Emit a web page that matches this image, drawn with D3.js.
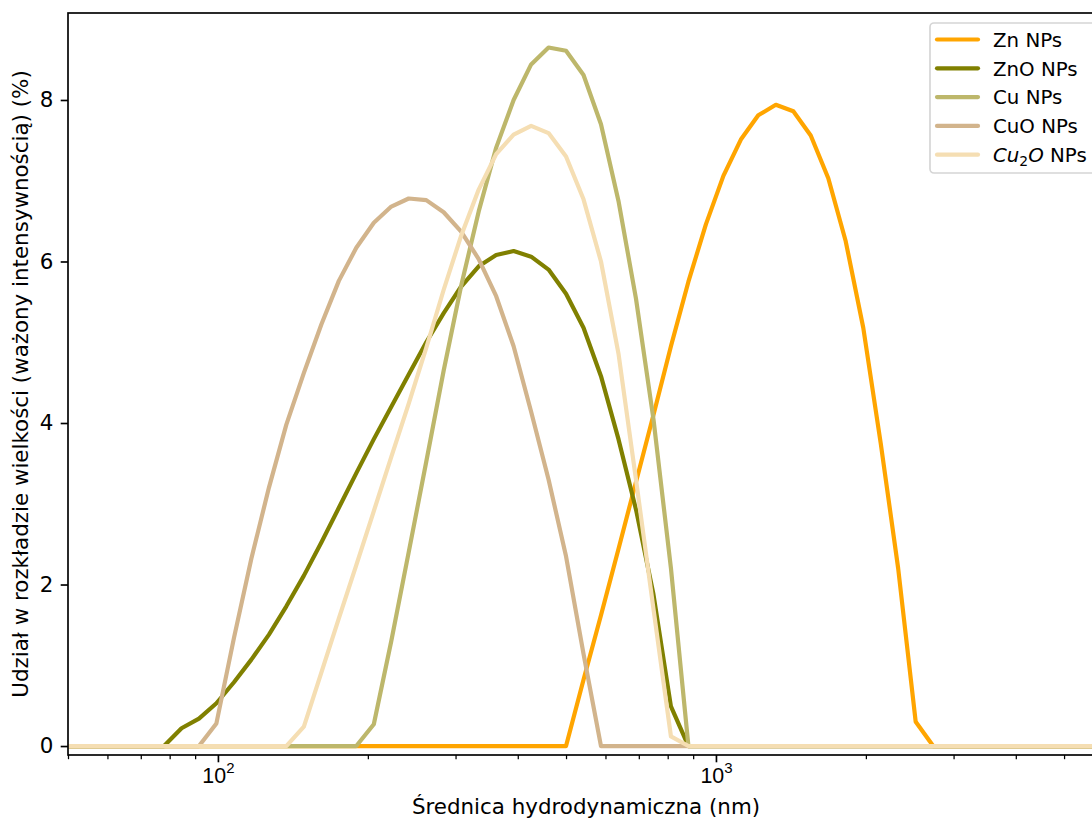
<!DOCTYPE html>
<html>
<head>
<meta charset="utf-8">
<script src="https://cdn.jsdelivr.net/npm/d3@7"></script>
<style>
  body { margin: 0; background: #fff; }
  svg { font-family: "DejaVu Sans", sans-serif; }
</style>
</head>
<body>
<div id="chart"></div>
<script>
// hydrodynamic diameter bins (nm), log spaced
var sizes = [
  47.98, 52.03, 56.41, 61.16, 66.31, 71.89, 77.94, 84.51, 91.61, 99.30,
  107.7, 116.7, 126.6, 137.2, 148.8, 161.3, 174.9, 189.6, 205.6, 222.9,
  241.6, 262.0, 284.0, 307.9, 333.9, 362.0, 392.4, 425.5, 461.2, 500.0,
  542.1, 587.7, 637.2, 690.9, 749.0, 812.1, 880.4, 954.5, 1035, 1122,
  1216, 1319, 1430, 1550, 1681, 1822, 1976, 2142, 2322, 2518,
  2730, 2959, 3209, 3479, 3772, 4089, 4433, 4806, 5211, 5649,
  6125
];

// intensity weighted size distribution (%)
var znValues = [
  0, 0, 0, 0, 0, 0, 0, 0, 0, 0,
  0, 0, 0, 0, 0, 0, 0, 0, 0, 0,
  0, 0, 0, 0, 0, 0, 0, 0, 0, 0,
  0.82, 1.62, 2.44, 3.27, 4.1, 4.95, 5.75, 6.46, 7.06, 7.51,
  7.81, 7.94, 7.86, 7.56, 7.03, 6.25, 5.18, 3.75, 2.2, 0.3,
  0, 0, 0, 0, 0, 0, 0, 0, 0, 0,
  0
];
var znoValues = [
  0, 0, 0, 0, 0, 0, 0, 0.22, 0.34, 0.53,
  0.79, 1.07, 1.38, 1.73, 2.11, 2.52, 2.95, 3.38, 3.80, 4.20,
  4.60, 5.0, 5.36, 5.69, 5.94, 6.08, 6.13, 6.06, 5.90, 5.60,
  5.18, 4.58, 3.8, 2.93, 1.88, 0.49, 0, 0, 0, 0,
  0, 0, 0, 0, 0, 0, 0, 0, 0, 0,
  0, 0, 0, 0, 0, 0, 0, 0, 0, 0,
  0
];
var cuValues = [
  0, 0, 0, 0, 0, 0, 0, 0, 0, 0,
  0, 0, 0, 0, 0, 0, 0, 0, 0.27, 1.3,
  2.4, 3.52, 4.65, 5.7, 6.62, 7.41, 8.0, 8.44, 8.65, 8.61,
  8.31, 7.70, 6.75, 5.54, 4.05, 2.2, 0, 0, 0, 0,
  0, 0, 0, 0, 0, 0, 0, 0, 0, 0,
  0, 0, 0, 0, 0, 0, 0, 0, 0, 0,
  0
];
var cuoValues = [
  0, 0, 0, 0, 0, 0, 0, 0, 0, 0.28,
  1.34, 2.32, 3.2, 3.98, 4.62, 5.22, 5.76, 6.17, 6.48, 6.68,
  6.78, 6.76, 6.61, 6.37, 6.03, 5.57, 4.95, 4.14, 3.3, 2.35,
  1.14, 0, 0, 0, 0, 0, 0, 0, 0, 0,
  0, 0, 0, 0, 0, 0, 0, 0, 0, 0,
  0, 0, 0, 0, 0, 0, 0, 0, 0, 0,
  0
];
var cu2oValues = [
  0, 0, 0, 0, 0, 0, 0, 0, 0, 0,
  0, 0, 0, 0, 0.24, 0.91, 1.58, 2.24, 2.91, 3.58,
  4.24, 4.93, 5.65, 6.32, 6.89, 7.33, 7.57, 7.68, 7.59, 7.30,
  6.77, 6.0, 4.86, 3.3, 1.7, 0.12, 0, 0, 0, 0,
  0, 0, 0, 0, 0, 0, 0, 0, 0, 0,
  0, 0, 0, 0, 0, 0, 0, 0, 0, 0,
  0
];

var seriesNames = ["Zn NPs", "ZnO NPs", "Cu NPs", "CuO NPs", "Cu2O NPs"];
var seriesColors = ["#FFA500", "#808000", "#BDB76B", "#D2B48C", "#F5DEB3"];
var seriesValues = [znValues, znoValues, cuValues, cuoValues, cu2oValues];

var xMajorTicks = [100, 1000];
var xMinorTicks = [50, 60, 70, 80, 90, 200, 300, 400, 500, 600, 700, 800, 900, 2000, 3000, 4000, 5000];
var yTicks = [0, 2, 4, 6, 8];

var svgWidth = 1092, svgHeight = 820;
var plotLeft = 68, plotRight = 1103.5, plotTop = 13, plotBottom = 755;
var fontSize = 21.4;
var legendFontSize = 19.8;

var svg = d3.select("#chart").append("svg")
  .attr("width", svgWidth)
  .attr("height", svgHeight);

var x = d3.scaleLog().domain([50, 6000]).range([plotLeft, plotRight]);
var y = d3.scaleLinear().domain([-0.111, 9.077]).range([plotBottom, plotTop]);

// clip the lines to the plot area
svg.append("clipPath").attr("id", "plotClip")
  .append("rect")
  .attr("x", plotLeft).attr("y", plotTop)
  .attr("width", plotRight - plotLeft).attr("height", plotBottom - plotTop);

var line = d3.line()
  .x(function(d, i) { return x(sizes[i]); })
  .y(function(d) { return y(d); });

var plot = svg.append("g").attr("clip-path", "url(#plotClip)");
seriesValues.forEach(function(vals, s) {
  plot.append("path")
    .attr("d", line(vals))
    .attr("fill", "none")
    .attr("stroke", seriesColors[s])
    .attr("stroke-width", 4.2)
    .attr("stroke-linejoin", "round");
});

// x axis: major and minor ticks
var xMajor = svg.append("g")
  .attr("transform", "translate(0," + plotBottom + ")")
  .call(d3.axisBottom(x).tickValues(xMajorTicks).tickSize(7.3).tickSizeOuter(0).tickFormat(""));
xMajor.selectAll(".tick line").attr("stroke-width", 1.67);
xMajor.selectAll(".tick").each(function(d) {
  var t = d3.select(this).append("text")
    .attr("y", 28)
    .attr("fill", "#000")
    .style("font-size", fontSize + "px")
    .attr("text-anchor", "middle");
  t.append("tspan").text("10");
  t.append("tspan").attr("dy", -9.6).style("font-size", (fontSize * 0.7) + "px")
    .text(Math.round(Math.log10(d)));
});

var xMinor = svg.append("g")
  .attr("transform", "translate(0," + plotBottom + ")")
  .call(d3.axisBottom(x).tickValues(xMinorTicks).tickSize(4.2).tickSizeOuter(0).tickFormat(""));
xMinor.selectAll(".tick line").attr("stroke-width", 1.25);

// y axis
var yAxis = svg.append("g")
  .attr("transform", "translate(" + plotLeft + ",0)")
  .call(d3.axisLeft(y).tickValues(yTicks).tickSize(7.3).tickPadding(7.3).tickSizeOuter(0));
yAxis.selectAll(".tick line").attr("stroke-width", 1.67);
yAxis.selectAll(".tick text").style("font-size", fontSize + "px").attr("fill", "#000")
  .style("font-family", "DejaVu Sans");

svg.selectAll(".domain").remove();

// frame
svg.append("rect")
  .attr("x", plotLeft).attr("y", plotTop)
  .attr("width", plotRight - plotLeft).attr("height", plotBottom - plotTop)
  .attr("fill", "none")
  .attr("stroke", "#000")
  .attr("stroke-width", 1.67);

// axis labels
svg.append("text")
  .attr("x", 586)
  .attr("y", 814)
  .attr("text-anchor", "middle")
  .style("font-size", fontSize + "px")
  .text("Średnica hydrodynamiczna (nm)");

svg.append("text")
  .attr("transform", "translate(28," + ((plotTop + plotBottom) / 2) + ") rotate(-90)")
  .attr("text-anchor", "middle")
  .style("font-size", fontSize + "px")
  .text("Udział w rozkładzie wielkości (ważony intensywnością) (%)");

// legend
var legend = svg.append("g");
legend.append("rect")
  .attr("x", 930).attr("y", 23)
  .attr("width", 167).attr("height", 150)
  .attr("rx", 4)
  .attr("fill", "#fff").attr("fill-opacity", 0.8)
  .attr("stroke", "#d5d5d5")
  .attr("stroke-width", 1.67);

var legendY = [39.5, 68.3, 97.1, 125.9, 154.7];
seriesNames.forEach(function(name, s) {
  legend.append("line")
    .attr("x1", 937).attr("x2", 978)
    .attr("y1", legendY[s]).attr("y2", legendY[s])
    .attr("stroke", seriesColors[s])
    .attr("stroke-width", 4.2)
    .attr("stroke-linecap", "round");
  var t = legend.append("text")
    .attr("x", 993)
    .attr("y", legendY[s] + 7.2)
    .style("font-size", legendFontSize + "px");
  if (name === "Cu2O NPs") {
    t.append("tspan").style("font-style", "italic").text("Cu");
    t.append("tspan").attr("dy", 4).style("font-size", (legendFontSize * 0.7) + "px").text("2");
    t.append("tspan").attr("dy", -4).style("font-style", "italic").text("O");
    t.append("tspan").text(" NPs");
  } else {
    t.text(name);
  }
});
</script>
</body>
</html>
